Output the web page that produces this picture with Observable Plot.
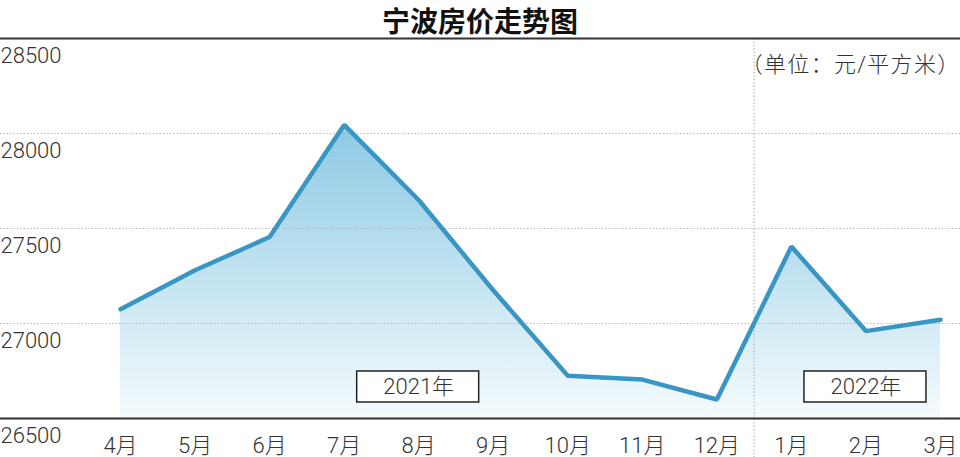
<!DOCTYPE html>
<html><head><meta charset="utf-8">
<script src="https://cdn.jsdelivr.net/npm/d3@7"></script>
<script src="https://cdn.jsdelivr.net/npm/@observablehq/plot@0.6"></script>
<style>
body{margin:0;background:#fff;}
#title{height:37px;font:bold 28px "Noto Sans CJK SC",sans-serif;text-align:center;line-height:41px;color:#111;overflow:visible;position:relative;z-index:1;}
#chart svg{display:block;}
</style></head><body>
<div id="title">宁波房价走势图</div>
<div id="chart"></div>
<script>
const months = ["4月","5月","6月","7月","8月","9月","10月","11月","12月","1月","2月","3月"];
const prices = [27075, 27280, 27455, 28045, 27650, 27175, 26725, 26705, 26600, 27405, 26960, 27020];
const yTicks = [26500, 27000, 27500, 28000, 28500];
const unitLabel = "（单位：元/平方米）";
const yearLabels = ["2021年", "2022年"];
const yearAnchors = ["8月", "2月"];

const data = months.map((m, i) => ({month: m, i, price: prices[i]}));
const breakIndex = months.indexOf("1月") - 0.5;
const font = 'Roboto, "Noto Sans CJK SC", sans-serif';
const yMin = yTicks[0], yMax = yTicks[yTicks.length - 1];

const plot = Plot.plot({
  width: 960, height: 420,
  marginTop: 1, marginBottom: 39, marginLeft: 0, marginRight: 0,
  x: {type: "linear", domain: [0, months.length - 1], range: [120, 940], axis: null},
  y: {domain: [yMin, yMax], axis: null},
  style: {fontFamily: font, background: "transparent", fontWeight: 300},
  marks: [
    Plot.areaY(data, {x: "i", y1: yMin, y2: "price", fill: "url(#areaGrad)"}),
    Plot.ruleY(yTicks.slice(1, -1), {stroke: "#aaa", strokeDasharray: "1.2,2.2", strokeWidth: 1.2}),
    Plot.ruleX([breakIndex], {stroke: "#aaa", strokeDasharray: "1.2,2.2", strokeWidth: 1.2, insetBottom: -40}),
    Plot.ruleY([yMin, yMax], {stroke: "#333", strokeWidth: 2}),
    Plot.lineY(data, {x: "i", y: "price", stroke: "#3996c4", strokeWidth: 4.5, strokeLinejoin: "miter"}),
    Plot.text(yTicks, {y: d => d, text: d => String(d), frameAnchor: "left", textAnchor: "start", dy: 17, fontSize: 22, fill: "#333"}),
    Plot.text(data, {x: "i", y: yMin, text: "month", dy: 27, fontSize: 22, fill: "#333"}),
    Plot.text([unitLabel], {frameAnchor: "top-right", text: d => d, textAnchor: "end", dy: 18, dx: 0, fontSize: 22, fill: "#333"}),
    Plot.text(yearLabels, {x: (d, k) => months.indexOf(yearAnchors[k]), y: 26666, text: d => d, fontSize: 22, fill: "#333"})
  ]
});

const defs = d3.select(plot).insert("defs", ":first-child");
const grad = defs.append("linearGradient").attr("id", "areaGrad")
  .attr("x1", 0).attr("y1", 0).attr("x2", 0).attr("y2", 1);
grad.append("stop").attr("offset", 0).attr("stop-color", "#8cc9e4");
grad.append("stop").attr("offset", 1).attr("stop-color", "#f5fbfd");

document.getElementById("chart").appendChild(plot);

d3.select(plot).selectAll("text")
  .filter(function() { return this.textContent === unitLabel; })
  .attr("letter-spacing", "1.3px");

d3.select(plot).selectAll("text")
  .filter(function() { return yearLabels.includes(this.textContent); })
  .each(function() {
    const b = this.getBBox();
    const node = this;
    const padX = (122 - b.width) / 2, padY = 3;
    d3.select(this.parentNode).insert("rect", () => node)
      .attr("x", b.x - padX - 1).attr("y", b.y - padY)
      .attr("width", b.width + 2 * padX).attr("height", b.height + 2 * padY)
      .attr("transform", node.getAttribute("transform"))
      .attr("fill", "#fff").attr("stroke", "#222").attr("stroke-width", 1.5);
  });
</script>
</body></html>
